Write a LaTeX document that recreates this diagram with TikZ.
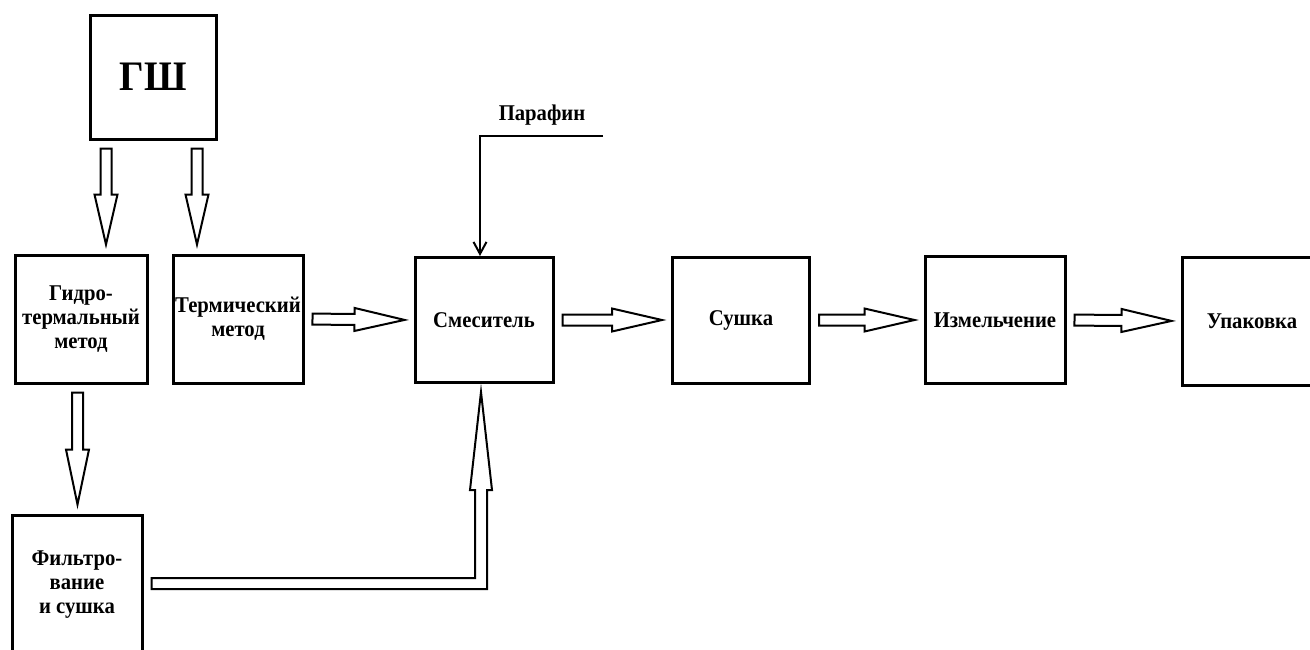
\documentclass[tikz,border=0pt]{standalone}
\usepackage{fontspec}
\setmainfont{Liberation Serif}[FakeStretch=0.92]
\usetikzlibrary{calc,arrows.meta}

% hollow block arrow: [head length]{from}{to}
\newcommand{\blockarrow}[3][50pt]{%
  \coordinate (ba-a) at ($(#2)!8pt!(#3)$);
  \coordinate (ba-b) at ($(#3)!9pt!(#2)$);
  \coordinate (ba-h) at ($(ba-b)!#1!(ba-a)$);
  \draw[hollow] ($(ba-a)!5.5pt!90:(ba-b)$) -- ($(ba-h)!5.5pt!90:(ba-b)$) -- ($(ba-h)!11.5pt!90:(ba-b)$) -- (ba-b)
    -- ($(ba-h)!11.5pt!-90:(ba-b)$) -- ($(ba-h)!5.5pt!-90:(ba-b)$) -- ($(ba-a)!5.5pt!-90:(ba-b)$) -- cycle;}

\begin{document}
\begin{tikzpicture}[x=1pt,y=-1pt,
  stage/.style={draw,line width=3pt,align=center,inner sep=0pt,
    font=\fontsize{22.5}{24}\selectfont\bfseries},
  lbl/.style={font=\fontsize{22.5}{24}\selectfont\bfseries},
  hollow/.style={draw,line width=2pt,fill=white,line join=miter},
  feed/.style={line width=2pt,-{Straight Barb[length=12pt,width=13pt]}}]
\useasboundingbox (0,0) rectangle (1310,649);
\clip (0,0) rectangle (1310,649);

% boxes
\node[stage,minimum width=126pt,minimum height=124pt,font=\fontsize{42}{46}\selectfont\bfseries] (gsh) at (153,77) {ГШ};
\node[stage,minimum width=132pt,minimum height=128pt] (hydro) at (81,319) {Гидро-\\термальный\\метод};
\node[stage,minimum width=130pt,minimum height=128pt] (term) at (238,319) {Термический\\метод};
\node[stage,minimum width=130pt,minimum height=140pt] (filt) at (77,585) {Фильтро-\\вание\\и сушка};
\node[stage,minimum width=138pt,minimum height=125pt] (smes) at (484,320) {Смеситель};
\node[stage,minimum width=137pt,minimum height=126pt] (sush) at (741,320) {Сушка};
\node[stage,minimum width=140pt,minimum height=127pt] (izm) at (995,320) {Измельчение};
\node[stage,minimum width=140pt,minimum height=128pt] (upak) at (1252,321) {Упаковка};

% paraffin feed
\node[lbl] (par) at (542,115) {Парафин};
\coordinate (parin) at (603,136);
\draw[feed] (parin) -| ($(smes.north)+(-4,0)$);

% arrows from GSh
\coordinate (gl) at ($(gsh.south)+(-47,0)$);
\coordinate (gle) at (gl |- hydro.north);
\coordinate (gr) at ($(gsh.south)+(44,0)$);
\coordinate (gre) at (gr |- term.north);
\blockarrow{gl}{gle}
\blockarrow{gr}{gre}

% hydro -> filtering
\coordinate (hs) at ($(hydro.south)+(-3.5,0)$);
\coordinate (hse) at (hs |- filt.north);
\blockarrow[55pt]{hs}{hse}

% main line
\blockarrow{term.east}{smes.west}
\blockarrow{smes.east}{sush.west}
\blockarrow{sush.east}{izm.west}
\blockarrow{izm.east}{upak.west}

% filtering -> mixer
\coordinate (fo) at ($(filt.east)+(8,-1.5)$);
\coordinate (ft) at ($(smes.south)+(-3,8)$);
\draw[hollow] ($(fo)+(0,-5.5)$) -- ($(ft |- fo)+(-6,-5.5)$) -- ($(ft)+(-6,98)$) -- ($(ft)+(-11,98)$) -- (ft)
  -- ($(ft)+(11,98)$) -- ($(ft)+(6,98)$) -- ($(ft |- fo)+(6,5.5)$) -- ($(fo)+(0,5.5)$) -- cycle;
\end{tikzpicture}
\end{document}
